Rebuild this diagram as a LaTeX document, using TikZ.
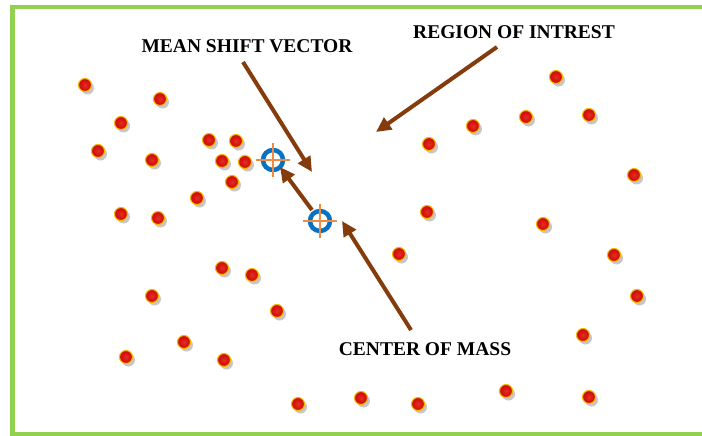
\documentclass[tikz,border=0pt]{standalone}
\usepackage{fontspec}
\setmainfont{Liberation Serif}
\usetikzlibrary{arrows.meta}
\definecolor{bordergreen}{HTML}{92D050}
\definecolor{arrowbrown}{HTML}{843C0C}
\definecolor{ringblue}{HTML}{0A70C0}
\definecolor{crossorange}{HTML}{F08A40}
\definecolor{dotred}{HTML}{E00800}
\definecolor{dotrim}{HTML}{F5B800}
\tikzset{
  dot/.style={circle, minimum size=13pt, inner sep=0pt, draw=dotrim, line width=1.1pt,
    inner color=dotred!85!white, outer color=dotred!90!black},
  dotshadow/.style={circle, minimum size=13pt, inner sep=0pt, fill=black!22},
  ring/.style={circle, minimum size=20pt, inner sep=0pt, draw=ringblue, line width=4.5pt},
  cross/.style={draw=crossorange, line width=1.4pt},
  bigarrow/.style={draw=arrowbrown, line width=4pt, -{Triangle[length=15pt,width=14pt]}},
  lbl/.style={font=\fontsize{19.5}{22}\selectfont\bfseries, text=black, inner sep=0pt}
}
\begin{document}
\begin{tikzpicture}[x=1pt,y=-1pt]
\useasboundingbox (0,0) rectangle (702,436);
\fill[white] (0,0) rectangle (702,436);
% border
\draw[bordergreen, line width=4.5pt] (702,7) -- (12.5,7) -- (12.5,434) -- (702,434);
% dots
\foreach \x/\y [count=\i] in {85/85, 160/99, 121/123, 98/151, 152/160, 209/140, 236/141, 222/161, 245/162, 232/182, 197/198, 121/214, 158/218, 222/268, 252/275, 152/296, 277/311, 184/342, 126/357, 224/360, 298/404, 361/398, 418/404, 506/391, 589/397, 583/335, 637/296, 614/255, 543/224, 634/175, 589/115, 526/117, 556/77, 473/126, 429/144, 427/212, 399/254} {
  \node[dotshadow] (s\i) at (\x+2.5,\y+3) {};
  \node[dot] (d\i) at (\x,\y) {};
}
% targets
\node[ring] (t1) at (273,160) {};
\node[ring] (t2) at (320,221) {};
\draw[cross] ([xshift=-17pt]t1.center) -- ([xshift=17pt]t1.center);
\draw[cross] ([yshift=-17pt]t1.center) -- ([yshift=17pt]t1.center);
\draw[cross] ([xshift=-17pt]t2.center) -- ([xshift=17pt]t2.center);
\draw[cross] ([yshift=-17pt]t2.center) -- ([yshift=17pt]t2.center);
% labels
\node[lbl] (lmean) at (247,46) {MEAN SHIFT VECTOR};
\node[lbl] (lroi) at (514,32) {REGION OF INTREST};
\node[lbl] (lcom) at (425,349) {CENTER OF MASS};
% arrow end coordinates
\coordinate (mstart) at (243,62);
\coordinate (mend) at (312,172);
\coordinate (rstart) at (497,47);
\coordinate (rend) at (376,132);
\coordinate (cstart) at (411,330);
\coordinate (cend) at (342,221);
\coordinate (vstart) at (312,210);
\coordinate (vend) at (280,167);
\draw[bigarrow] (mstart) -- (mend);
\draw[bigarrow] (rstart) -- (rend);
\draw[bigarrow] (cstart) -- (cend);
\draw[bigarrow] (vstart) -- (vend);
\end{tikzpicture}
\end{document}
